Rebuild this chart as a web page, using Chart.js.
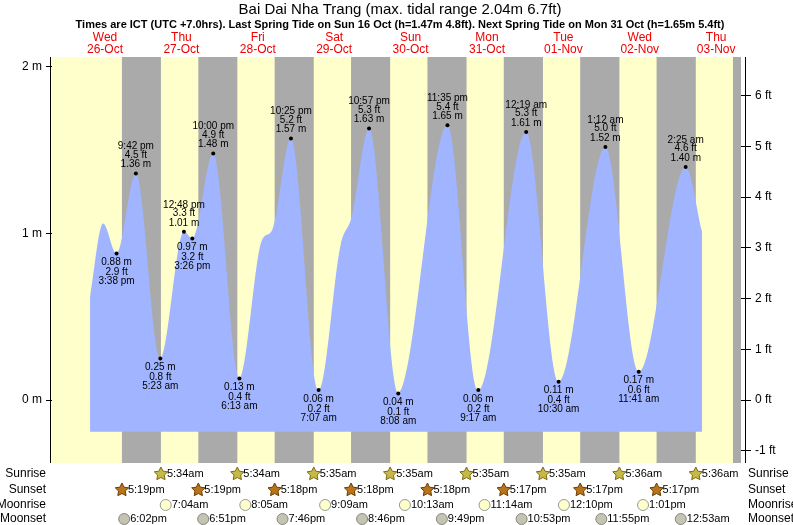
<!DOCTYPE html>
<html><head><meta charset="utf-8">
<script src="https://cdn.jsdelivr.net/npm/chart.js@4/dist/chart.umd.min.js"></script>
<style>html,body{margin:0;padding:0;background:#fff}#w{width:793px;height:525px}</style>
</head><body><div id="w"><canvas id="c"></canvas></div>
<script>
// hours from 26-Oct 00:00 (ICT)
const tideHours   = [7.3, 11.4, 15.63, 21.7, 29.38, 36.8, 39.43, 46.0, 54.22, 61.3, 64.5, 70.42, 79.12, 86.0, 89.5, 94.95, 104.13, 119.58, 129.28, 144.32, 154.5, 169.2, 179.68, 194.42, 199.6];
const tideHeights = [0.62, 1.06, 0.88, 1.36, 0.25, 1.01, 0.97, 1.48, 0.13, 0.96, 1.02, 1.57, 0.06, 0.93, 1.1, 1.63, 0.04, 1.65, 0.06, 1.61, 0.11, 1.52, 0.17, 1.40, 1.01];
const extHours  = [15.63, 21.7, 29.38, 36.8, 39.43, 46.0, 54.22, 70.42, 79.12, 94.95, 104.13, 119.58, 129.28, 144.32, 154.5, 169.2, 179.68, 194.42];
const extM      = ["0.88","1.36","0.25","1.01","0.97","1.48","0.13","1.57","0.06","1.63","0.04","1.65","0.06","1.61","0.11","1.52","0.17","1.40"];
const extFt     = ["2.9","4.5","0.8","3.3","3.2","4.9","0.4","5.2","0.2","5.3","0.1","5.4","0.2","5.3","0.4","5.0","0.6","4.6"];
const extTime   = ["3:38 pm","9:42 pm","5:23 am","12:48 pm","3:26 pm","10:00 pm","6:13 am","10:25 pm","7:07 am","10:57 pm","8:08 am","11:35 pm","9:17 am","12:19 am","10:30 am","1:12 am","11:41 am","2:25 am"];
const extHigh   = [false,true,false,true,false,true,false,true,false,true,false,true,false,true,false,true,false,true];
const dayNames  = ["Wed","Thu","Fri","Sat","Sun","Mon","Tue","Wed","Thu"];
const dayDates  = ["26-Oct","27-Oct","28-Oct","29-Oct","30-Oct","31-Oct","01-Nov","02-Nov","03-Nov"];
const sunriseH  = [29.57,53.57,77.58,101.58,125.58,149.58,173.6,197.6];
const sunriseT  = ["5:34am","5:34am","5:35am","5:35am","5:35am","5:35am","5:36am","5:36am"];
const sunsetH   = [17.32,41.32,65.3,89.3,113.3,137.28,161.28,185.28,209.28];
const sunsetT   = ["5:19pm","5:19pm","5:18pm","5:18pm","5:18pm","5:17pm","5:17pm","5:17pm",""];
const moonriseH = [31.07,56.08,81.15,106.22,131.23,156.17,181.02];
const moonriseT = ["7:04am","8:05am","9:09am","10:13am","11:14am","12:10pm","1:01pm"];
const moonsetH  = [18.03,42.85,67.77,92.77,117.82,142.88,167.92,192.88];
const moonsetT  = ["6:02pm","6:51pm","7:46pm","8:46pm","9:49pm","10:53pm","11:55pm","12:53am"];
const mTicks = [0,1,2];
const ftTicks = [-1,0,1,2,3,4,5,6];

const FONT = "'Liberation Sans', Arial, sans-serif";
const FT = 0.3048;

function star(ctx,x,y,r,fill,stroke){
  ctx.beginPath();
  for(let i=0;i<10;i++){const a=-Math.PI/2+i*Math.PI/5;const rr=i%2?r*0.5:r;ctx.lineTo(x+rr*Math.cos(a),y+rr*Math.sin(a));}
  ctx.closePath();ctx.fillStyle=fill;ctx.fill();ctx.strokeStyle=stroke;ctx.lineWidth=1;ctx.stroke();
}
function circ(ctx,x,y,r,fill,stroke){
  ctx.beginPath();ctx.arc(x,y,r,0,Math.PI*2);ctx.fillStyle=fill;ctx.fill();ctx.strokeStyle=stroke;ctx.lineWidth=1;ctx.stroke();
}

const deco = {
  id:'deco',
  beforeDatasetsDraw(chart){
    const {ctx, chartArea:a, scales:{x}} = chart;
    ctx.save();
    ctx.fillStyle='#ffffcc';ctx.fillRect(a.left,a.top,a.right-a.left,a.bottom-a.top);
    ctx.fillStyle='#aaaaaa';
    for(let i=0;i<sunsetH.length;i++){
      const s=x.getPixelForValue(sunsetH[i]);
      const e=i<sunriseH.length?x.getPixelForValue(sunriseH[i]):a.right;
      const l=Math.max(s,a.left), r=Math.min(e,a.right);
      if(r>l) ctx.fillRect(l,a.top,r-l,a.bottom-a.top);
    }
    ctx.restore();
  },
  afterDatasetsDraw(chart){
    const {ctx, chartArea:a, scales:{x,y}} = chart;
    ctx.save();
    // extremes
    ctx.font='10px '+FONT;ctx.textAlign='center';ctx.textBaseline='middle';
    for(let i=0;i<extHours.length;i++){
      const px=x.getPixelForValue(extHours[i]), py=y.getPixelForValue(parseFloat(extM[i]));
      ctx.fillStyle='#000';ctx.beginPath();ctx.arc(px,py,2,0,Math.PI*2);ctx.fill();
      if(extHigh[i]){
        ctx.fillText(extM[i]+' m',px,py-9);ctx.fillText(extFt[i]+' ft',px,py-18.5);ctx.fillText(extTime[i],px,py-27);
      }else{
        ctx.fillText(extM[i]+' m',px,py+9);ctx.fillText(extFt[i]+' ft',px,py+19);ctx.fillText(extTime[i],px,py+28);
      }
    }
    // left frame line
    ctx.strokeStyle='#000';ctx.lineWidth=1;
    ctx.beginPath();ctx.moveTo(a.left-1.5,a.top);ctx.lineTo(a.left-1.5,a.bottom);ctx.stroke();
    ctx.beginPath();ctx.moveTo(a.right+4.5,a.top);ctx.lineTo(a.right+4.5,a.bottom);ctx.stroke();
    // titles
    ctx.fillStyle='#000';ctx.textBaseline='middle';ctx.textAlign='center';
    ctx.font='15px '+FONT;ctx.fillText('Bai Dai Nha Trang (max. tidal range 2.04m 6.7ft)',400,10);
    ctx.font='bold 11px '+FONT;ctx.fillText('Times are ICT (UTC +7.0hrs). Last Spring Tide on Sun 16 Oct (h=1.47m 4.8ft). Next Spring Tide on Mon 31 Oct (h=1.65m 5.4ft)',400,25);
    ctx.font='12px '+FONT;ctx.fillStyle='#ee0000';
    for(let i=0;i<dayNames.length;i++){
      const px=x.getPixelForValue(12+24*i);
      ctx.fillText(dayNames[i],px,38);ctx.fillText(dayDates[i],px,50);
    }
    // table
    const rows=[['Sunrise',474],['Sunset',490],['Moonrise',505],['Moonset',519]];
    ctx.font='12px '+FONT;ctx.fillStyle='#000';
    for(const [t,yy] of rows){ctx.textAlign='right';ctx.fillText(t,46,yy);ctx.textAlign='left';ctx.fillText(t,748,yy);}
    ctx.font='11px '+FONT;ctx.textAlign='left';
    const put=(hs,ts,yy,kind)=>{
      for(let i=0;i<hs.length;i++){
        if(!ts[i]) continue;
        const px=x.getPixelForValue(hs[i]);
        if(kind==='sr') star(ctx,px,yy,7,'#c8b84a','#7a6a10');
        else if(kind==='ss') star(ctx,px,yy,7,'#b8741a','#6a3a00');
        else if(kind==='mr') circ(ctx,px,yy,5.5,'#ffffcc','#999');
        else circ(ctx,px,yy,5.5,'#c4c4b0','#888');
        ctx.fillStyle='#000';ctx.fillText(ts[i],px+6,yy);
      }
    };
    put(sunriseH,sunriseT,474,'sr');put(sunsetH,sunsetT,490,'ss');
    put(moonriseH,moonriseT,505,'mr');put(moonsetH,moonsetT,519,'ms');
    ctx.restore();
  }
};

new Chart(document.getElementById('c'),{
  type:'line',
  data:{datasets:[{
    data:tideHours.map((h,i)=>({x:h,y:tideHeights[i]})),
    borderWidth:0,borderColor:'rgba(0,0,0,0)',pointRadius:0,
    backgroundColor:'#a0b4ff',fill:{value:-0.19},cubicInterpolationMode:'monotone'
  }]},
  options:{
    responsive:true,maintainAspectRatio:false,animation:false,
    layout:{padding:{top:57,bottom:62,left:0,right:0}},
    plugins:{legend:{display:false},tooltip:{enabled:false}},
    scales:{
      x:{type:'linear',min:-4.65,max:211.8,display:false},
      y:{min:-0.378,max:2.06,position:'left',
        afterFit(s){s.width=52;},
        afterBuildTicks(s){s.ticks=mTicks.map(v=>({value:v}));},
        ticks:{callback:v=>v+' m',color:'#000',font:{size:12,family:FONT},padding:4},
        grid:{drawOnChartArea:false,tickLength:6,color:'#000'},border:{display:false}},
      y2:{min:-0.378/FT,max:2.06/FT,position:'right',
        afterFit(s){s.width=52;},
        afterBuildTicks(s){s.ticks=ftTicks.map(v=>({value:v}));},
        ticks:{callback:v=>v+' ft',color:'#000',font:{size:12,family:FONT},padding:4},
        grid:{drawOnChartArea:false,tickLength:10,color:'#000'},border:{display:false}}
    }
  },
  plugins:[deco]
});
</script></body></html>
